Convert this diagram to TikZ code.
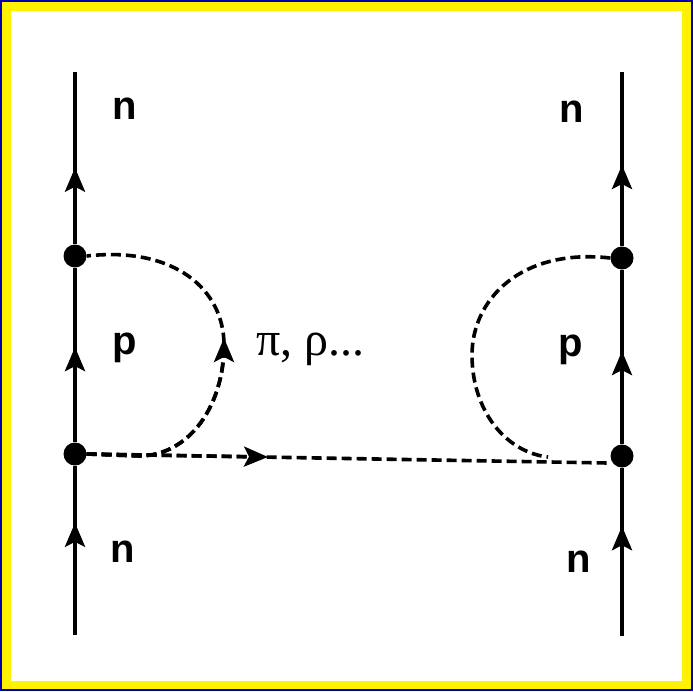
\documentclass[tikz,border=0pt]{standalone}
\usepackage{fontspec}
\setmainfont{Liberation Serif}
\setsansfont{Liberation Sans}
\usetikzlibrary{arrows.meta,calc}

\tikzset{
  quark/.style={line width=4pt},
  meson/.style={line width=3.6pt, dash pattern=on 10pt off 5pt},
  arrowtip/.style={-{Stealth[length=24pt,width=20pt,inset=5pt]}},
  vertex/.style={circle, fill=black, inner sep=0pt, minimum size=23pt},
  lab/.style={font=\fontsize{40}{44}\selectfont\sffamily\bfseries, inner sep=0pt},
}

\begin{document}
\begin{tikzpicture}[x=1pt,y=-1pt]
  % frame
  \fill[blue!70!black] (0,0) rectangle (693,691);
  \fill[yellow] (2,2) rectangle (691,689);
  \fill[white] (11,11) rectangle (682,681);
  \useasboundingbox (0,0) rectangle (693,691);
  % line ends and vertices
  \coordinate (lbot) at (75,635);
  \coordinate (ltop) at (75,72);
  \coordinate (rbot) at (622,636);
  \coordinate (rtop) at (622,72);
  \coordinate (hend) at (608,463);
  \coordinate (harr) at (268,457);
  \node[vertex] (vlt) at (75,256) {};
  \node[vertex] (vlb) at (75,454) {};
  \node[vertex] (vrt) at (622,258) {};
  \node[vertex] (vrb) at (622,456) {};
  % nucleon lines
  \foreach \a/\b/\p in {lbot/vlb/0.62, vlb/vlt/0.54, vlt/ltop/0.48,
                        rbot/vrb/0.61, vrb/vrt/0.53, vrt/rtop/0.50}{
    \draw[quark] (\a) -- (\b);
    \draw[quark, arrowtip] (\a) -- ($(\a)!\p!(\b)$);
  }
  % meson lines
  \draw[meson] (vlb.east) -- (hend);
  \draw[meson, arrowtip] (vlb.east) -- (harr);
  \draw[meson] (vlb.east) -- (140,456)
    .. controls (190,455) and (224,405) .. (224,345)
    .. controls (224,290) and (175,246) .. (vlt.east);
  \draw[meson, arrowtip] (vlb.east) -- (140,456)
    .. controls (190,455) and (224,405) .. (224,345) -- (224,338);
  \draw[meson] (vrt.west) .. controls (520,248) and (472,300) .. (472,355)
    .. controls (472,410) and (505,452) .. (548,457);
  % labels
  \node[lab] (nlt) at (125,109) {n};
  \node[lab] (nrt) at (572,112) {n};
  \node[lab] (plm) at (125,348) {p};
  \node[lab] (prm) at (571,350) {p};
  \node[lab] (nlb) at (123,552) {n};
  \node[lab] (nrb) at (579,562) {n};
  \node[font=\fontsize{48}{52}\selectfont, anchor=base west, inner sep=0pt] (mes) at (256,355) {π, ρ...};
\end{tikzpicture}
\end{document}
